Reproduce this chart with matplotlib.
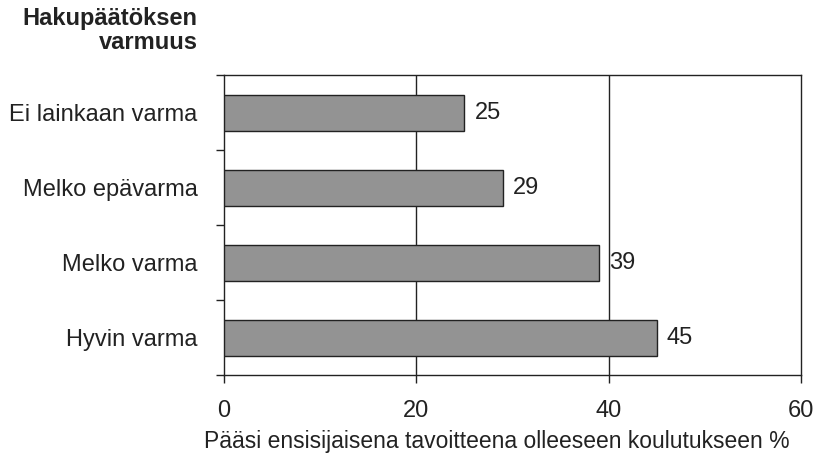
import matplotlib.pyplot as plt
import numpy as np

plt.rcParams['font.family'] = ['Liberation Sans', 'DejaVu Sans']

luokat = ['Ei lainkaan varma', 'Melko epävarma', 'Melko varma', 'Hyvin varma']
arvot = [25, 29, 39, 45]

fig = plt.figure(figsize=(8.21, 4.63), dpi=100)
ax = fig.add_axes([0.2728, 0.190, 0.7028, 0.648])

y = np.arange(len(luokat))
ax.barh(y, arvot, height=0.48, color='#939393', edgecolor='#222222', linewidth=1.0, zorder=3)
for yi, v in zip(y, arvot):
    ax.annotate(str(v), (v, yi), xytext=(10, 0), textcoords='offset pixels',
                va='center', ha='left', fontsize=17, color='#222222')

ax.set_xlim(0, 60)
ax.set_ylim(len(luokat) - 0.5, -0.5)
ax.set_xticks([0, 20, 40, 60])
ax.set_yticks(np.arange(-0.5, len(luokat), 1.0))
ax.set_yticklabels([])
ax.set_yticks(y, minor=True)
ax.set_yticklabels(luokat, minor=True, fontsize=17, color='#222222')
ax.tick_params(axis='y', which='minor', length=0, pad=19)
ax.tick_params(axis='y', which='major', length=6, width=1, color='#222222')
ax.tick_params(axis='x', length=6, width=1, pad=12, labelsize=17, colors='#222222')

for x in [20, 40]:
    ax.axvline(x, color='#222222', linewidth=1.0, zorder=1)
for s in ax.spines.values():
    s.set_color('#222222')
    s.set_linewidth(1.0)

fig.text(0.241, 0.985, 'Hakupäätöksen\nvarmuus', ha='right', va='top',
         fontsize=17, fontweight='bold', color='#222222', linespacing=1.05)
fig.text(0.605, 0.047, 'Pääsi ensisijaisena tavoitteena olleeseen koulutukseen %',
         ha='center', va='center', fontsize=16.5, color='#222222')

fig.savefig('out.png', dpi=100)
